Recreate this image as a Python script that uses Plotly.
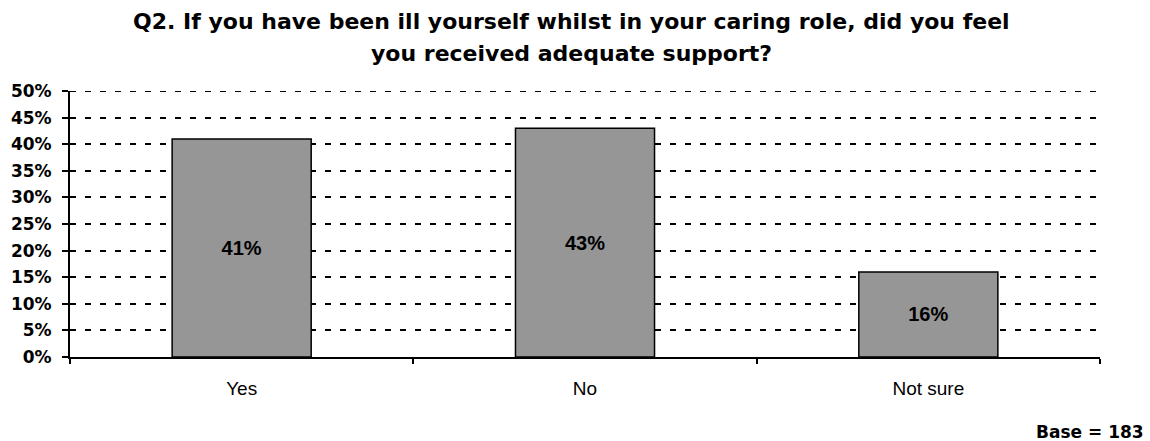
import plotly.graph_objects as go

categories = ["Yes", "No", "Not sure"]
values = [41, 43, 16]
labels = ["41%", "43%", "16%"]
tick_vals = list(range(0, 55, 5))
tick_text = [f"{v}%" for v in tick_vals]
title_lines = ["Q2. If you have been ill yourself whilst in your caring role, did you feel",
               "you received adequate support?"]
base_text = "Base = 183"

ARIAL = "Liberation Sans, Arial, sans-serif"
WIDE = "DejaVu Sans, sans-serif"
DASH = "6px,9px"

PL, PR, PT, PB = 70, 50, 91, 84
W, H = 1150, 441
PW, PH = W - PL - PR, H - PT - PB


def px_x(x):
    return (x - PL) / PW


def px_y(y):
    return (H - PB - y) / PH


fig = go.Figure(go.Bar(
    x=categories, y=values, text=labels, textposition="inside",
    insidetextanchor="middle",
    textfont=dict(family=ARIAL, size=20, color="black", weight="bold"),
    marker=dict(color="#969696", line=dict(color="black", width=1.5)),
    width=0.405,
))

annotations = [
    dict(text=f"<b>{title_lines[0]}</b>", x=px_x(571), y=px_y(21),
         font=dict(family=WIDE, size=22, color="black")),
    dict(text=f"<b>{title_lines[1]}</b>", x=px_x(571), y=px_y(54),
         font=dict(family=WIDE, size=22, color="black")),
]
for a in annotations:
    a.update(xref="paper", yref="paper", showarrow=False,
             xanchor="center", yanchor="middle")
annotations.append(dict(
    text=f"<b>{base_text}</b>", x=px_x(1146), y=px_y(432),
    xref="paper", yref="paper", showarrow=False,
    font=dict(family=WIDE, size=17, color="black"),
    xanchor="right", yanchor="middle",
))

fig.update_layout(
    width=W, height=H,
    margin=dict(l=PL, r=PR, t=PT, b=PB),
    paper_bgcolor="white", plot_bgcolor="white",
    showlegend=False,
    annotations=annotations,
    shapes=[dict(type="line", xref="paper", yref="y", x0=0, x1=1, y0=50, y1=50,
                 line=dict(color="black", width=2, dash=DASH), layer="below")],
)

fig.update_yaxes(
    range=[0, 50], tickvals=tick_vals, ticktext=tick_text,
    showgrid=True, gridcolor="black", griddash=DASH, gridwidth=2,
    showline=True, linecolor="black", linewidth=2,
    ticks="outside", ticklen=6, tickcolor="black", tickwidth=2,
    ticklabelstandoff=7,
    tickfont=dict(family=WIDE, size=17, color="black", weight="bold"),
    zeroline=False,
)
fig.update_xaxes(
    showline=True, linecolor="black", linewidth=2,
    ticks="outside", ticklen=5, tickcolor="black", tickwidth=2,
    tickson="boundaries", ticklabelstandoff=13,
    tickfont=dict(family=ARIAL, size=19, color="black"),
)

fig.write_html("out.html")
